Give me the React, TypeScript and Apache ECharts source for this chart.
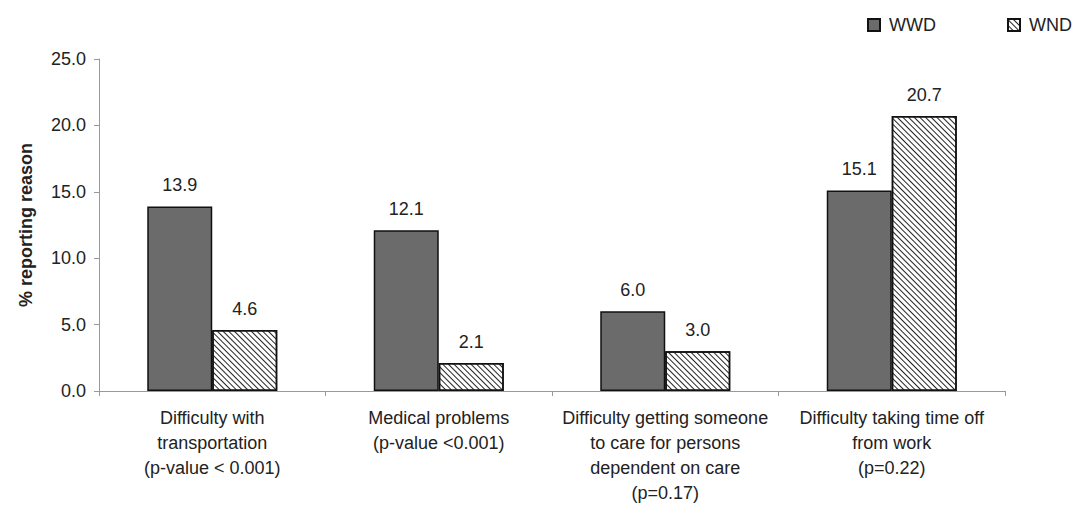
import React, { useEffect, useRef } from "react";
import * as echarts from "echarts";

const categories = [
  "Difficulty with\ntransportation\n(p-value < 0.001)",
  "Medical problems\n(p-value <0.001)",
  "Difficulty getting someone\nto care for persons\ndependent on care\n(p=0.17)",
  "Difficulty taking time off\nfrom work\n(p=0.22)",
];
const wwdValues = [13.9, 12.1, 6.0, 15.1];
const wndValues = [4.6, 2.1, 3.0, 20.7];
const yTicks = { min: 0, max: 25, interval: 5 };

const FONT = "'Liberation Sans', Arial, sans-serif";

export default function App() {
  const ref = useRef<HTMLDivElement>(null);
  useEffect(() => {
    if (!ref.current) return;
    const chart = echarts.init(ref.current, null, { renderer: "svg" });
    const labelCfg = {
      show: true,
      position: "top",
      distance: 12,
      fontSize: 18,
      color: "#222",
      fontFamily: FONT,
      formatter: (p: any) => Number(p.value).toFixed(1),
    };
    const legendBase = {
      top: 11,
      itemWidth: 12,
      itemHeight: 12,
      icon: "rect",
      textStyle: { fontSize: 18, color: "#222", fontFamily: FONT, padding: [0, 0, 0, 4] },
    };
    chart.setOption({
      animation: false,
      backgroundColor: "#fff",
      textStyle: { fontFamily: FONT },
      legend: [
        { ...legendBase, left: 862, data: ["WWD"] },
        { ...legendBase, left: 1002, data: ["WND"] },
      ],
      grid: { left: 99, right: 67, top: 59, bottom: 115 },
      xAxis: {
        type: "category",
        data: categories,
        axisLine: { lineStyle: { color: "#999", width: 1 } },
        axisTick: { show: true, length: 5, lineStyle: { color: "#999" } },
        axisLabel: {
          fontSize: 18,
          lineHeight: 25,
          color: "#222",
          margin: 14,
          interval: 0,
          fontFamily: FONT,
        },
      },
      yAxis: {
        type: "value",
        min: yTicks.min,
        max: yTicks.max,
        interval: yTicks.interval,
        name: "% reporting reason",
        nameLocation: "middle",
        nameGap: 64,
        nameRotate: 90,
        nameTextStyle: { fontSize: 18, fontWeight: "bold", color: "#222", fontFamily: FONT },
        axisLine: { show: true, lineStyle: { color: "#999", width: 1 } },
        axisTick: { show: true, length: 5, lineStyle: { color: "#999" } },
        axisLabel: {
          fontSize: 18,
          color: "#222",
          margin: 13,
          fontFamily: FONT,
          formatter: (v: number) => v.toFixed(1),
        },
        splitLine: { show: false },
      },
      series: [
        {
          name: "WWD",
          type: "bar",
          data: wwdValues,
          barWidth: 65,
          barGap: "0%",
          itemStyle: { color: "#6b6b6b", borderColor: "#111", borderWidth: 1.5 },
          label: labelCfg,
        },
        {
          name: "WND",
          type: "bar",
          data: wndValues,
          barWidth: 65,
          barGap: "0%",
          itemStyle: {
            color: "#fff",
            borderColor: "#111",
            borderWidth: 1.5,
            decal: {
              symbol: "rect",
              symbolSize: 1,
              color: "#222",
              dashArrayX: [1, 0],
              dashArrayY: [1, 2.2],
              rotation: Math.PI / 4,
            },
          },
          label: labelCfg,
        },
      ],
    });
    return () => chart.dispose();
  }, []);
  return (
    <div
      ref={ref}
      style={{ position: "fixed", left: 0, top: 0, width: 1072, height: 506 }}
    />
  );
}
